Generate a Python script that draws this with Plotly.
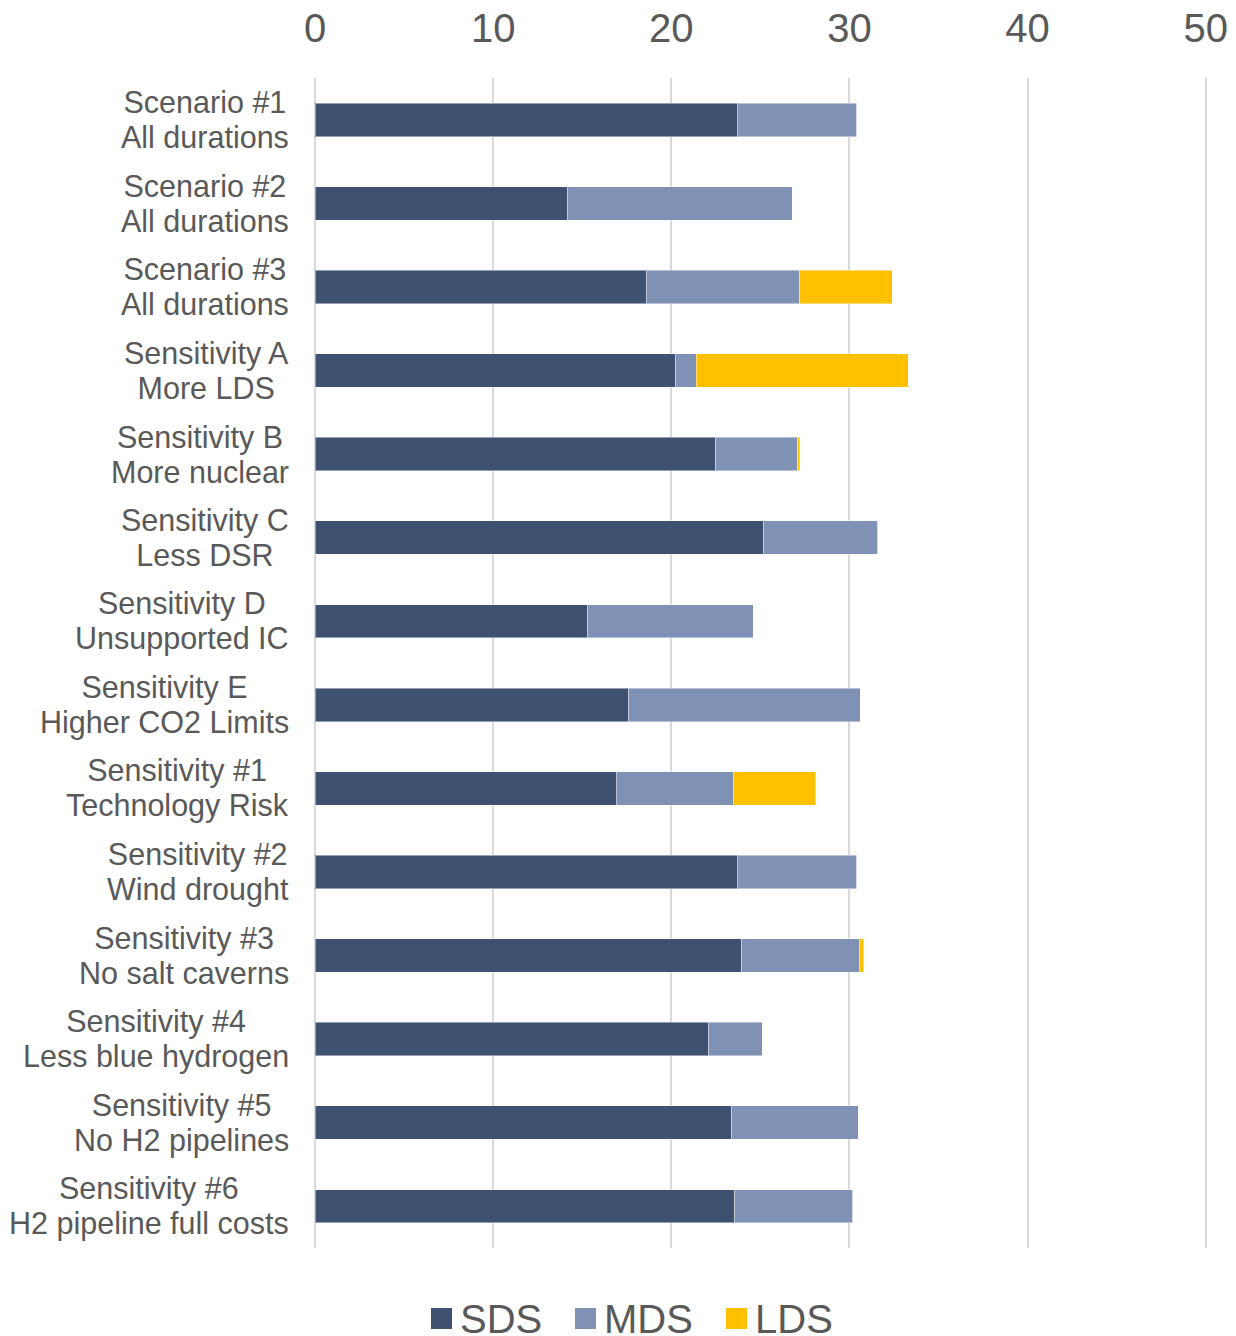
import plotly.graph_objects as go

categories = [
    "Scenario #1<br>All durations",
    "Scenario #2<br>All durations",
    "Scenario #3<br>All durations",
    "Sensitivity A<br>More LDS",
    "Sensitivity B<br>More nuclear",
    "Sensitivity C<br>Less DSR",
    "Sensitivity D<br>Unsupported IC",
    "Sensitivity E<br>Higher CO2 Limits",
    "Sensitivity #1<br>Technology Risk",
    "Sensitivity #2<br>Wind drought",
    "Sensitivity #3<br>No salt caverns",
    "Sensitivity #4<br>Less blue hydrogen",
    "Sensitivity #5<br>No H2 pipelines",
    "Sensitivity #6<br>H2 pipeline full costs",
]
sds = [23.7, 14.2, 18.6, 20.25, 22.5, 25.2, 15.3, 17.6, 16.9, 23.7, 23.95, 22.1, 23.4, 23.55]
mds = [6.7, 12.6, 8.6, 1.15, 4.6, 6.4, 9.3, 13.0, 6.6, 6.7, 6.6, 3.0, 7.1, 6.65]
lds = [0, 0, 5.2, 11.9, 0.1, 0, 0, 0, 4.6, 0, 0.25, 0, 0, 0]

series = [("SDS", sds, "#3F5170"), ("MDS", mds, "#7F91B4"), ("LDS", lds, "#FFC000")]
x_ticks = [0, 10, 20, 30, 40, 50]
x_max = 50.3

TXT = "#595959"
FONT = "Liberation Sans, Arial, sans-serif"

# the page body adds an 8px margin, so the figure is sized 8px smaller
OFF = 8
W, H = 1236 - OFF, 1336 - OFF
ML, MT, MB = 315 - OFF, 78 - OFF, 88
PW = round((1206 - 315) * x_max / 50)
MR = W - ML - PW
PH = H - MT - MB

fig = go.Figure()
for name, vals, color in series:
    fig.add_trace(go.Bar(
        name=name, y=categories, x=vals, orientation="h",
        marker=dict(color=color, line=dict(color="rgba(255,255,255,0.45)", width=1)),
        showlegend=False,
    ))

for c in categories:
    fig.add_annotation(
        x=0, xref="paper", y=c, yref="y",
        text="<span style='font-size:30.5px'>" + c.replace("<br>", "</span><br><span style='font-size:30.5px'>") + "</span>",
        showarrow=False,
        xanchor="right", yanchor="middle", align="center", xshift=-24,
        font=dict(size=27, color=TXT, family=FONT),
    )

# manual legend (larger square swatches, like the reference)
legend_left_px = [431 - OFF, 575 - OFF, 726 - OFF]
sw = 21
legend_cy = 1318.5 - OFF
for (name, _, color), lx in zip(series, legend_left_px):
    x0 = (lx - ML) / PW
    x1 = (lx + sw - ML) / PW
    y0 = (H - MB - (legend_cy + sw / 2)) / PH
    y1 = (H - MB - (legend_cy - sw / 2)) / PH
    fig.add_shape(type="rect", xref="paper", yref="paper", x0=x0, x1=x1, y0=y0, y1=y1,
                  fillcolor=color, line=dict(width=0))
    fig.add_annotation(
        x=(lx + sw + 6 - ML) / PW, xref="paper",
        y=(H - MB - legend_cy) / PH, yref="paper",
        text=name, showarrow=False, xanchor="left", yanchor="middle",
        font=dict(size=40, color=TXT, family=FONT),
    )

fig.update_layout(
    barmode="stack",
    bargap=0.6,
    width=W, height=H,
    margin=dict(l=ML, r=MR, t=MT, b=MB, autoexpand=False),
    plot_bgcolor="white", paper_bgcolor="white",
    font=dict(family=FONT, color=TXT),
    showlegend=False,
    xaxis=dict(
        side="top", range=[0, x_max], tickvals=x_ticks,
        showgrid=True, gridcolor="#D9D9D9", gridwidth=2,
        zeroline=True, zerolinecolor="#D9D9D9", zerolinewidth=2,
        showline=False, automargin=False,
        ticks="outside", ticklen=19, tickcolor="rgba(0,0,0,0)",
        tickfont=dict(size=40, color=TXT, family=FONT),
    ),
    yaxis=dict(
        autorange="reversed", showticklabels=False, showgrid=False,
        zeroline=False, showline=False, ticks="", automargin=False,
    ),
)

fig.write_html("out.html")
